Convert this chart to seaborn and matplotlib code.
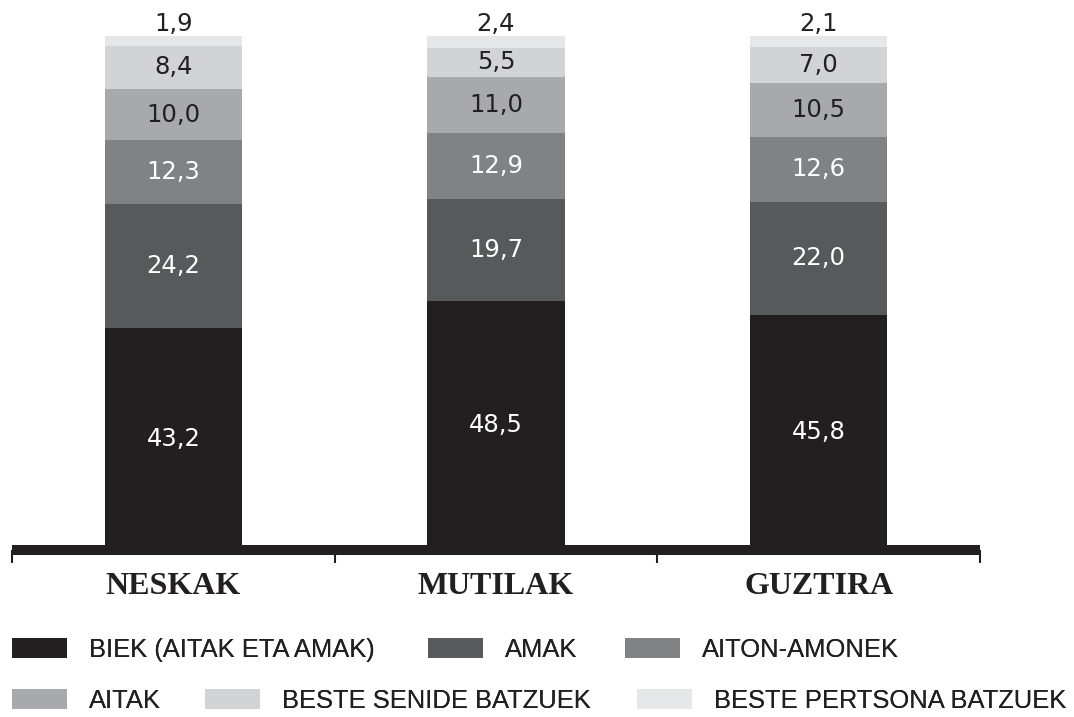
import matplotlib
matplotlib.use("Agg")
import matplotlib.pyplot as plt
import seaborn as sns
import pandas as pd
import numpy as np
from matplotlib.patches import Patch

categories = ["NESKAK", "MUTILAK", "GUZTIRA"]
series = ["BIEK (AITAK ETA AMAK)", "AMAK", "AITON-AMONEK",
          "AITAK", "BESTE SENIDE BATZUEK", "BESTE PERTSONA BATZUEK"]
biek = [43.2, 48.5, 45.8]
amak = [24.2, 19.7, 22.0]
aiton_amonek = [12.3, 12.9, 12.6]
aitak = [10.0, 11.0, 10.5]
beste_senide = [8.4, 5.5, 7.0]
beste_pertsona = [1.9, 2.4, 2.1]

colors = ["#231f20", "#58595b", "#808285", "#a7a9ac", "#d1d3d4", "#e6e7e8"]
label_colors = ["white", "white", "white", "#231f20", "#231f20", "#231f20"]

vals = np.array([biek, amak, aiton_amonek, aitak, beste_senide, beste_pertsona])
cum = vals.cumsum(axis=0)

rows = []
for i, s in enumerate(series):
    for j, c in enumerate(categories):
        rows.append({"cat": c, "series": s, "value": vals[i, j],
                     "top": cum[i, j], "bottom": cum[i, j] - vals[i, j]})
df = pd.DataFrame(rows)

sns.set_style("white")
plt.rcParams["font.family"] = ["Liberation Sans", "DejaVu Sans"]

fig = plt.figure(figsize=(10.74, 7.17), dpi=100)
ax = fig.add_axes([12 / 1074, 1 - 550 / 717, 968 / 1074, 514 / 717])

# stacked bars: draw cumulative totals from the top series down
for i in range(len(series) - 1, -1, -1):
    sub = df[df["series"] == series[i]]
    sns.barplot(data=sub, x="cat", y="top", order=categories, color=colors[i],
                saturation=1, width=0.425, linewidth=0, ax=ax)

# value labels
val_font = ["DejaVu Sans"]
for i, s in enumerate(series):
    sub = df[df["series"] == s]
    for j, c in enumerate(categories):
        r = sub[sub["cat"] == c].iloc[0]
        txt = f"{r['value']:.1f}".replace(".", ",")
        if i == len(series) - 1:
            ax.annotate(txt, (j, r["top"]), xytext=(0, 0), textcoords="offset points",
                        ha="center", va="bottom", fontsize=17.5, color="#231f20",
                        family=val_font, annotation_clip=False)
        else:
            ax.text(j, (r["top"] + r["bottom"]) / 2, txt, ha="center", va="center",
                    fontsize=17.5, color=label_colors[i], family=val_font)

ax.set_xlim(-0.5, 2.5)
ax.set_ylim(0, 100)
ax.set_xlabel("")
ax.set_ylabel("")
ax.set_yticks([])
for sp in ["top", "right", "left"]:
    ax.spines[sp].set_visible(False)
ax.spines["bottom"].set_linewidth(7.2)
ax.spines["bottom"].set_color("#231f20")
ax.spines["bottom"].set_capstyle("butt")

ax.set_xticks(range(len(categories)))
ax.set_xticklabels(categories, family=["Liberation Serif"], fontweight="bold",
                   fontsize=23, color="#231f20")
ax.set_xticks([-0.5, 0.5, 1.5, 2.5], minor=True)
ax.tick_params(axis="x", which="major", length=0, pad=16)
ax.tick_params(axis="x", which="minor", length=9, width=1.5, color="#231f20",
               direction="out", bottom=True)

# legend: one entry per box, placed like the reference's two rows
leg_x = [12, 428, 625, 12, 205, 637]
leg_y = [650, 650, 650, 701, 701, 701]
for k, s in enumerate(series):
    leg = fig.legend([Patch(facecolor=colors[k], edgecolor="none")], [s],
                     frameon=False, fontsize=18.4, handlelength=2.15, handleheight=0.8,
                     handletextpad=0.86, borderpad=0, borderaxespad=0,
                     loc="center left", labelcolor="#231f20",
                     bbox_to_anchor=(leg_x[k] / 1074, 1 - leg_y[k] / 717))
    fig.add_artist(leg)

fig.savefig("out.png", dpi=100)
